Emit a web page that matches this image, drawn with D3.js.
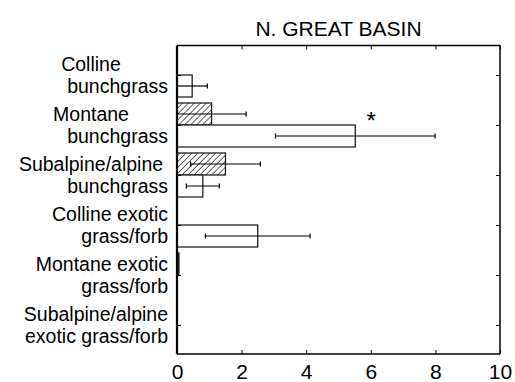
<!DOCTYPE html>
<html><head><meta charset="utf-8">
<script src="https://cdn.jsdelivr.net/npm/d3@7"></script>
<style>body{margin:0;background:#fff}svg{display:block}text{font-family:"Liberation Sans",Arial,sans-serif;fill:#000}</style>
</head><body>
<script>
const title = "N. GREAT BASIN";
const categories = [
  ["Colline", "bunchgrass"],
  ["Montane", "bunchgrass"],
  ["Subalpine/alpine", "bunchgrass"],
  ["Colline exotic", "grass/forb"],
  ["Montane exotic", "grass/forb"],
  ["Subalpine/alpine", "exotic grass/forb"]
];
const hatchedValues = [0, 1.07, 1.5, 0, 0.06, 0];
const hatchedErrors = [0, 1.07, 1.08, 0, 0, 0];
const openValues = [0.47, 5.52, 0.8, 2.5, 0, 0];
const openErrors = [0.47, 2.47, 0.51, 1.62, 0, 0];
const significant = [false, true, false, false, false, false];
const xTicks = [0, 2, 4, 6, 8, 10];

(function () {
const W = 515, H = 382;
const pLeft = 177, pRight = 500, pTop = 45.5, pBottom = 354;
const svg = d3.select("body").append("svg").attr("width", W).attr("height", H);

const x = d3.scaleLinear().domain([0, 10]).range([pLeft, pRight]);
const y = d3.scaleBand().domain(d3.range(categories.length)).range([50, 350]).paddingInner(0.12).paddingOuter(0.06);
const sub = d3.scaleBand().domain(["h", "o"]).range([0, y.bandwidth()]);

const defs = svg.append("defs");
const pat = defs.append("pattern").attr("id", "hatch").attr("patternUnits", "userSpaceOnUse")
  .attr("width", 4.2).attr("height", 4.2).attr("patternTransform", "rotate(45)");
pat.append("rect").attr("width", 4.2).attr("height", 4.2).attr("fill", "#fff");
pat.append("line").attr("x1", 0).attr("y1", 0).attr("x2", 0).attr("y2", 4.2).attr("stroke", "#000").attr("stroke-width", 1.2);

const rows = categories.map((c, i) => ({i, hv: hatchedValues[i], he: hatchedErrors[i], ov: openValues[i], oe: openErrors[i]}));

const g = svg.append("g");
rows.forEach(r => {
  const y0 = y(r.i);
  [["h", r.hv, r.he, "url(#hatch)"], ["o", r.ov, r.oe, "#fff"]].forEach(([k, v, e, fill]) => {
    if (v <= 0) return;
    const by = y0 + sub(k);
    const bh = sub.bandwidth();
    g.append("rect").attr("x", x(0)).attr("y", by).attr("width", Math.max(x(v) - x(0), 1.5)).attr("height", bh)
      .attr("fill", v < 0.2 ? "#000" : fill).attr("stroke", "#222").attr("stroke-width", 1.3);
    if (e > 0) {
      const cy = by + bh / 2;
      const lo = Math.max(v - e, 0), hi = v + e;
      g.append("line").attr("x1", x(lo)).attr("x2", x(hi)).attr("y1", cy).attr("y2", cy).attr("stroke", "#000").attr("stroke-width", 1.2);
      [lo, hi].forEach(val => {
        if (val <= 0) return;
        g.append("line").attr("x1", x(val)).attr("x2", x(val)).attr("y1", cy - 2.5).attr("y2", cy + 2.5).attr("stroke", "#000").attr("stroke-width", 1.2);
      });
    }
  });
  if (significant[r.i]) {
    g.append("text").attr("x", x(r.ov + r.oe * 0.2)).attr("y", y0 + sub("o") + 4).attr("text-anchor", "middle")
      .attr("font-size", 24).text("*");
  }
});

const frame = svg.append("g").attr("stroke", "#000").attr("fill", "none");
frame.append("line").attr("x1", pLeft).attr("x2", pRight).attr("y1", pTop).attr("y2", pTop).attr("stroke-width", 1.5);
frame.append("line").attr("x1", pLeft).attr("x2", pRight).attr("y1", pBottom).attr("y2", pBottom).attr("stroke-width", 1.5);
frame.append("line").attr("x1", pRight).attr("x2", pRight).attr("y1", pTop).attr("y2", pBottom).attr("stroke-width", 1.5);
frame.append("line").attr("x1", pLeft).attr("x2", pLeft).attr("y1", pTop).attr("y2", pBottom).attr("stroke-width", 2.2);

const xb = svg.append("g").attr("transform", `translate(0,${pBottom})`)
  .call(d3.axisBottom(x).tickValues(xTicks).tickSize(-4).tickPadding(10).tickFormat(d3.format("d")));
xb.select(".domain").remove();
xb.selectAll("text").attr("font-size", 21).attr("dy", "0.71em").style("font-family", "'Liberation Sans',Arial,sans-serif");
xb.selectAll("line").attr("stroke-width", 1);
const xt = svg.append("g").attr("transform", `translate(0,${pTop})`)
  .call(d3.axisTop(x).tickValues(xTicks).tickSize(-4).tickFormat(""));
xt.select(".domain").remove();
xt.selectAll("line").attr("stroke-width", 1);

const centers = categories.map((c, i) => y(i) + y.bandwidth() / 2);
const yl = svg.append("g").attr("transform", `translate(${pLeft},0)`)
  .call(d3.axisLeft(d3.scaleIdentity()).tickValues(centers).tickSize(-4).tickFormat(""));
yl.select(".domain").remove();
const yr = svg.append("g").attr("transform", `translate(${pRight},0)`)
  .call(d3.axisRight(d3.scaleIdentity()).tickValues(centers).tickSize(-4).tickFormat(""));
yr.select(".domain").remove();

const centeredFirst = new Set([0, 1, 2]);
categories.forEach((lines, i) => {
  const c = centers[i];
  const t = svg.append("text").attr("class", "cat").attr("font-size", 19.5);
  lines.forEach((ln, j) => {
    const cent = j === 0 && centeredFirst.has(i);
    t.append("tspan").attr("x", cent ? 91 : 168).attr("y", c - 4 + j * 22)
      .attr("text-anchor", cent ? "middle" : "end").text(ln);
  });
});

svg.append("text").attr("x", (pLeft + pRight) / 2).attr("y", 36).attr("text-anchor", "middle").attr("font-size", 21).text(title);
})();
</script>
</body></html>
